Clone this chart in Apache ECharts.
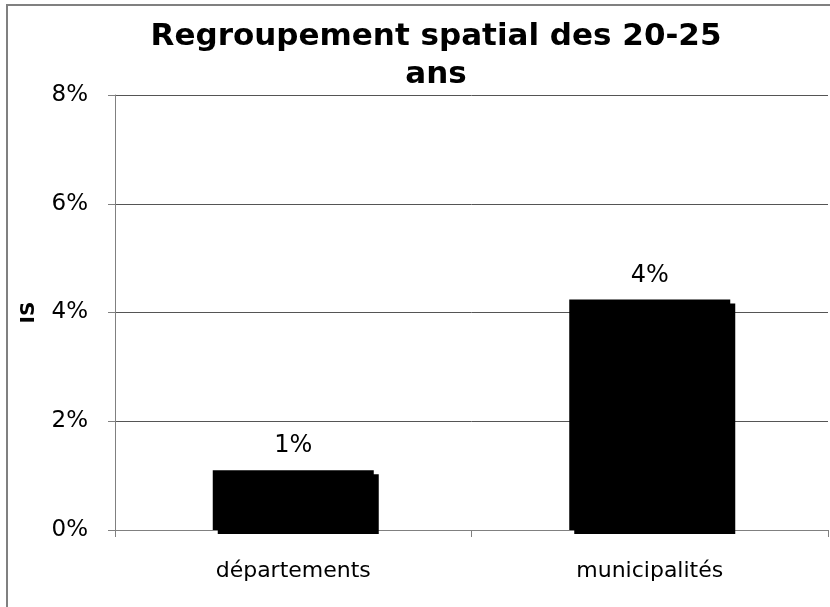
<!DOCTYPE html>
<html>
<head>
<meta charset="utf-8">
<script src="https://cdn.jsdelivr.net/npm/echarts@6/dist/echarts.min.js"></script>
<style>
html, body { margin: 0; padding: 0; background: #fff; }
#chart { width: 830px; height: 607px; }
</style>
</head>
<body>
<div id="chart"></div>
<script>
// data
var categories = ['départements', 'municipalités']
var isValues = [1.1, 4.24]
var yTicks = [0, 2, 4, 6, 8]

var chart = echarts.init(document.getElementById('chart'))
var font = 'DejaVu Sans'

var option = {
  animation: false,
  backgroundColor: '#fff',
  title: {
    text: 'Regroupement spatial des 20-25\nans',
    left: 431,
    textAlign: 'center',
    top: 13,
    textStyle: {
      fontFamily: font,
      fontSize: 31,
      fontWeight: 'bold',
      color: '#000',
      lineHeight: 38
    }
  },
  graphic: [{
    type: 'rect',
    shape: { x: 7, y: 5, width: 900, height: 700 },
    style: { fill: 'none', stroke: '#808080', lineWidth: 2 },
    silent: true
  }],
  grid: {
    left: 115,
    right: 2,
    top: 95,
    bottom: 77
  },
  xAxis: {
    type: 'category',
    data: categories,
    axisLine: { lineStyle: { color: '#808080', width: 1 } },
    axisTick: { show: true, length: 7, lineStyle: { color: '#808080' } },
    axisLabel: {
      fontFamily: font,
      fontSize: 22,
      color: '#000',
      margin: 30
    }
  },
  yAxis: {
    type: 'value',
    min: yTicks[0],
    max: yTicks[yTicks.length - 1],
    interval: 2,
    name: 'IS',
    nameLocation: 'middle',
    nameRotate: 90,
    nameGap: 76,
    nameTextStyle: {
      fontFamily: font,
      fontSize: 20,
      fontWeight: 'bold',
      color: '#000'
    },
    axisLine: { show: true, lineStyle: { color: '#808080', width: 1 } },
    axisTick: { show: true, length: 7, lineStyle: { color: '#808080' } },
    axisLabel: {
      fontFamily: font,
      fontSize: 23,
      color: '#000',
      margin: 27,
      formatter: '{value}%'
    },
    splitLine: { show: true, lineStyle: { color: '#555', width: 1 } }
  },
  series: [{
    type: 'bar',
    data: isValues,
    barWidth: 161,
    itemStyle: {
      color: '#000',
      shadowColor: '#000',
      shadowBlur: 0,
      shadowOffsetX: 5,
      shadowOffsetY: 4
    },
    label: {
      show: true,
      position: 'top',
      distance: 12,
      fontFamily: font,
      fontSize: 24,
      color: '#000',
      formatter: function (p) {
        return Math.round(p.value) + '%'
      }
    }
  }]
}

chart.setOption(option)
</script>
</body>
</html>
